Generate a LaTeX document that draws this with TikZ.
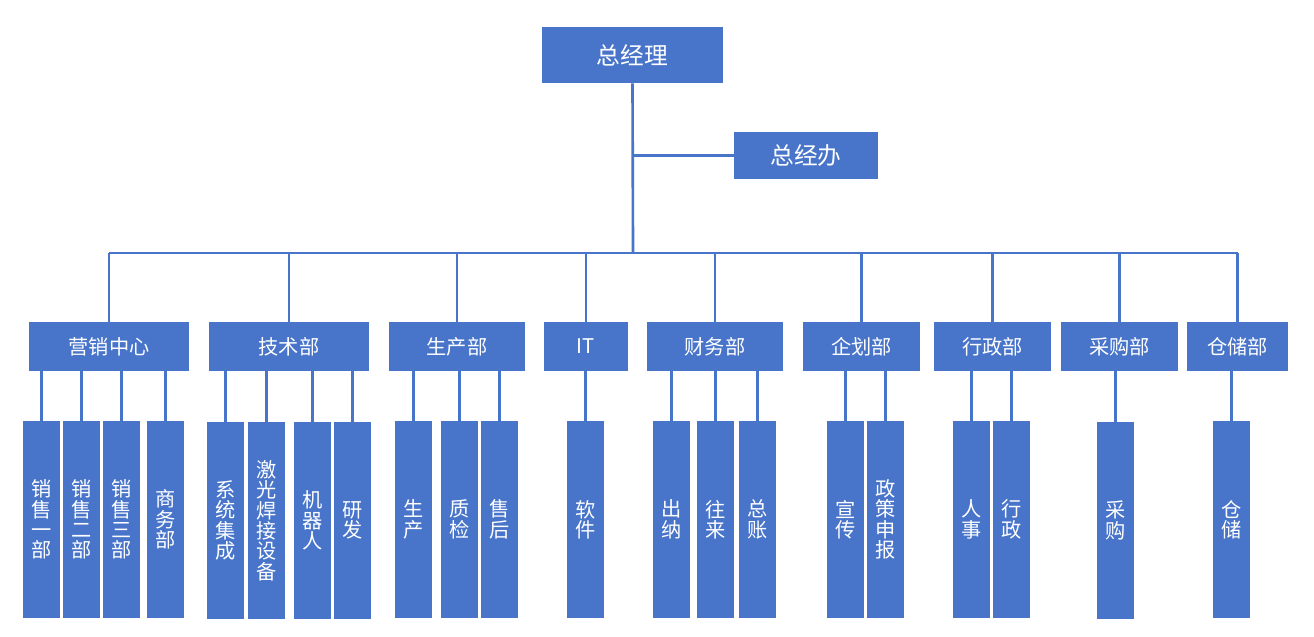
\documentclass[tikz,border=0pt]{standalone}
\usepackage{fontspec}
\setmainfont{Noto Sans CJK SC}
\usepackage{tikz}
\usetikzlibrary{positioning}
\usetikzlibrary{calc}
\definecolor{orgblue}{RGB}{72,117,202}
\tikzset{box node/.style={rectangle,fill=orgblue,text=white,inner sep=0pt,align=center},
	head node/.style={box node,font=\fontsize{13.5}{15}\selectfont},
	dept node/.style={box node,minimum height=0.98cm,font=\fontsize{11.5}{13}\selectfont},
	leaf node/.style={box node,minimum width=0.74cm,minimum height=3.94cm,font=\fontsize{11.5}{11.6}\selectfont},
	link/.style={draw=orgblue,line width=1.5pt},}
\begin{document}
\begin{tikzpicture}[x=0.02cm, y=-0.02cm]
		\useasboundingbox (0,0) rectangle (1314,636);
		% top
		\node[head node, minimum width=3.62cm, minimum height=1.12cm] (gm) at (632.5,55) {总经理};
		\node[head node, minimum width=2.88cm, minimum height=0.94cm] (office) at (806,155.5) {总经办};
		% departments
		\node[dept node, minimum width=3.2cm] (sales) at (109,346.5) {营销中心};
		\node[dept node, minimum width=3.2cm] (tech) at (289,346.5) {技术部};
		\node[dept node, minimum width=2.72cm] (prod) at (457,346.5) {生产部};
		\node[dept node, minimum width=1.68cm] (it) at (586,346.5) {IT};
		\node[dept node, minimum width=2.72cm] (fin) at (715,346.5) {财务部};
		\node[dept node, minimum width=2.34cm] (plan) at (861.5,346.5) {企划部};
		\node[dept node, minimum width=2.34cm] (admin) at (992.5,346.5) {行政部};
		\node[dept node, minimum width=2.34cm] (buy) at (1119.5,346.5) {采购部};
		\node[dept node, minimum width=2.02cm] (store) at (1237.5,346.5) {仓储部};
		% leaves
		\node[leaf node] (s1) at (41.5,519.5) {销\\售\\一\\部};
		\node[leaf node] (s2) at (81.5,519.5) {销\\售\\二\\部};
		\node[leaf node] (s3) at (121.5,519.5) {销\\售\\三\\部};
		\node[leaf node] (s4) at (165.5,519.5) {商\\务\\部};
		\node[leaf node] (t1) at (225.5,520.5) {系\\统\\集\\成};
		\node[leaf node] (t2) at (266.5,520.5) {激\\光\\焊\\接\\设\\备};
		\node[leaf node] (t3) at (312.5,520.5) {机\\器\\人};
		\node[leaf node] (t4) at (352.5,520.5) {研\\发};
		\node[leaf node] (p1) at (413.5,519.5) {生\\产};
		\node[leaf node] (p2) at (459.5,519.5) {质\\检};
		\node[leaf node] (p3) at (499.5,519.5) {售\\后};
		\node[leaf node] (i1) at (585.5,519.5) {软\\件};
		\node[leaf node] (f1) at (671.5,519.5) {出\\纳};
		\node[leaf node] (f2) at (715.5,519.5) {往\\来};
		\node[leaf node] (f3) at (757.5,519.5) {总\\账};
		\node[leaf node] (q1) at (845.5,519.5) {宣\\传};
		\node[leaf node] (q2) at (885.5,519.5) {政\\策\\申\\报};
		\node[leaf node] (a1) at (971.5,519.5) {人\\事};
		\node[leaf node] (a2) at (1011.5,519.5) {行\\政};
		\node[leaf node] (b1) at (1115.5,520.5) {采\\购};
		\node[leaf node] (w1) at (1231.5,519.5) {仓\\储};

		\coordinate (bus) at (633,253);
		\coordinate (j) at (gm.south |- office.west);
		\draw[link] (gm.south) -- (bus);
		\draw[link] (j) -- (office.west);
		\draw[link] (sales.north |- bus) -- (store.north |- bus);
		\foreach \d in {sales,tech,prod,it,fin,plan,admin,buy,store}
			\draw[link] (\d.north) -- (\d.north |- bus);
		\foreach \l/\d in {s1/sales,s2/sales,s3/sales,s4/sales,t1/tech,t2/tech,t3/tech,t4/tech,
			p1/prod,p2/prod,p3/prod,i1/it,f1/fin,f2/fin,f3/fin,q1/plan,q2/plan,a1/admin,a2/admin,b1/buy,w1/store}
			\draw[link] (\l.north) -- (\l.north |- \d.south);
	\end{tikzpicture}
\end{document}
